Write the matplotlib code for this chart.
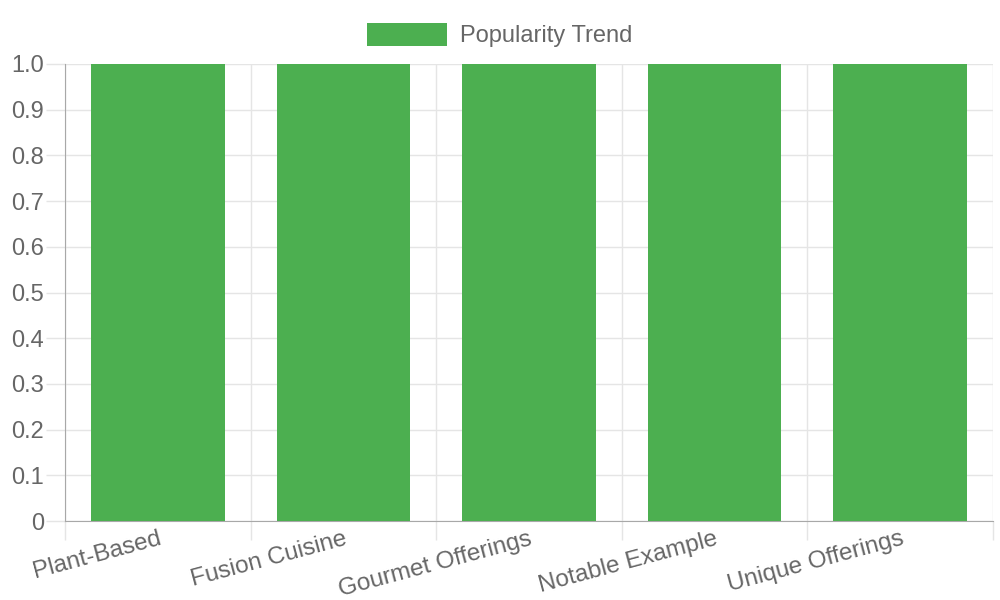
import numpy as np
import matplotlib.pyplot as plt
from matplotlib.ticker import FixedLocator, FuncFormatter

categories = ["Plant-Based", "Fusion Cuisine", "Gourmet Offerings", "Notable Example", "Unique Offerings"]
popularity = [1, 1, 1, 1, 1]
y_ticks = [0, 0.1, 0.2, 0.3, 0.4, 0.5, 0.6, 0.7, 0.8, 0.9, 1.0]

GREEN = "#4caf50"
TEXT = "#666666"
GRID = "#e5e5e5"
AXIS = "#a8a8a8"
FS = 17

plt.rcParams["font.family"] = ["Liberation Sans", "DejaVu Sans"]

fig = plt.figure(figsize=(10, 6), dpi=100)
ax = fig.add_axes([0.065, (600 - 521) / 600, 0.928, (521 - 64) / 600])

x = np.arange(len(categories))
ax.bar(x, popularity, width=0.72, color=GREEN, label="Popularity Trend", zorder=3)

ax.set_xlim(-0.5, len(categories) - 0.5)
ax.set_ylim(0, 1.0)

# category boundaries carry the grid and tick marks
ax.xaxis.set_major_locator(FixedLocator(x))
ax.xaxis.set_minor_locator(FixedLocator(np.arange(len(categories) + 1) - 0.5))
ax.set_xticklabels(categories, rotation=15, ha="right", rotation_mode="anchor")
ax.tick_params(axis="x", which="major", length=0, pad=5, labelsize=FS + 0.5, labelcolor=TEXT)
ax.tick_params(axis="x", which="minor", length=14, width=1, color=GRID)
ax.grid(axis="x", which="minor", color=GRID, linewidth=1, zorder=0)

ax.yaxis.set_major_locator(FixedLocator(y_ticks))
ax.yaxis.set_major_formatter(FuncFormatter(lambda v, p: "0" if v == 0 else f"{v:.1f}"))
ax.tick_params(axis="y", length=14, width=1, color=GRID, pad=1, labelsize=FS, labelcolor=TEXT)
ax.grid(axis="y", color=GRID, linewidth=1, zorder=0)

for side in ["top", "right"]:
    ax.spines[side].set_visible(False)
ax.spines["left"].set_color(AXIS)
ax.spines["bottom"].set_color(AXIS)
ax.set_axisbelow(True)

leg = ax.legend(loc="lower center", bbox_to_anchor=((500 - 65) / 928, 1.0), frameon=False,
                fontsize=FS, handlelength=3.4, handleheight=1.15, handletextpad=0.55,
                borderaxespad=0.3)
for t in leg.get_texts():
    t.set_color(TEXT)

fig.savefig("out.png", dpi=100)
